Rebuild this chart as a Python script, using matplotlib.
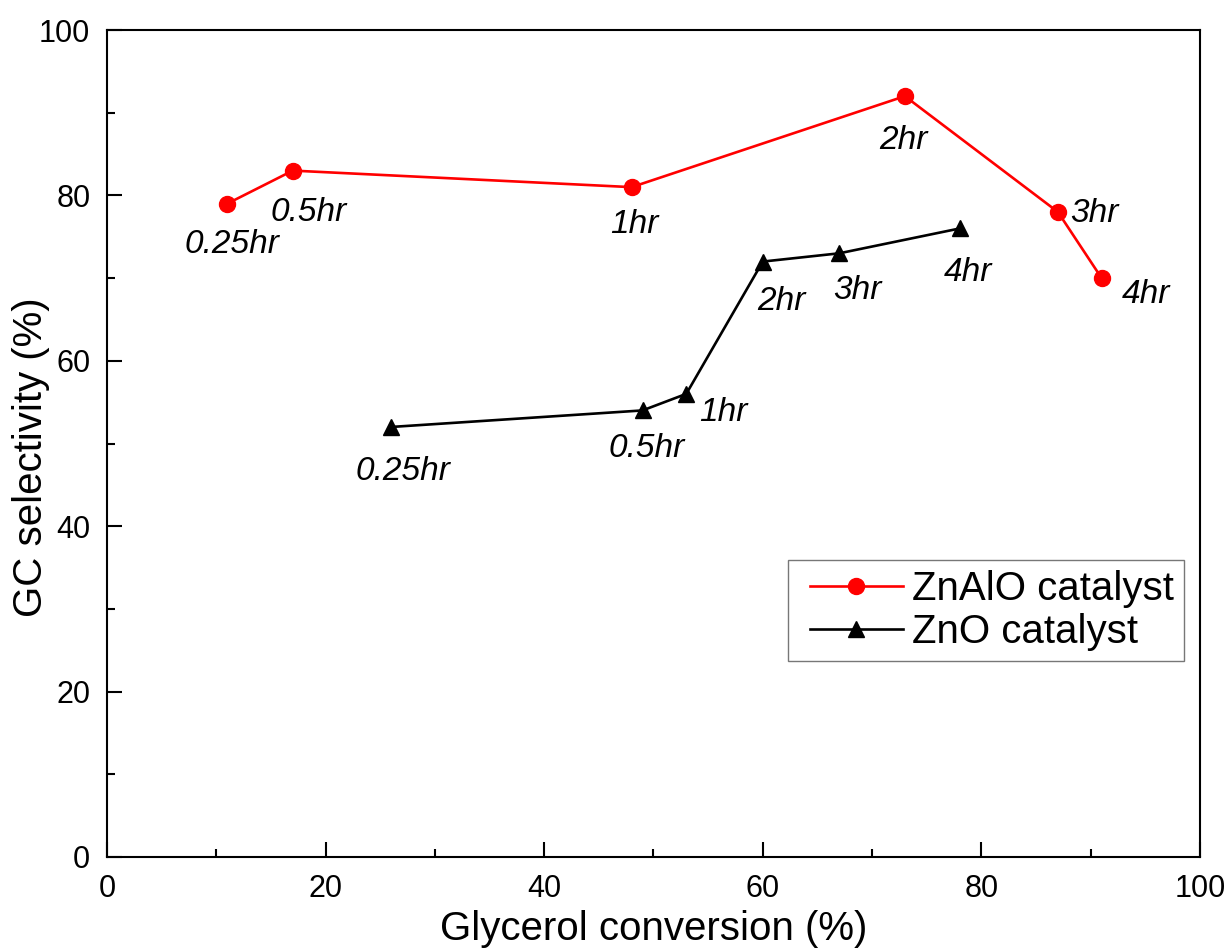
import matplotlib
matplotlib.use("Agg")
import matplotlib.pyplot as plt
from matplotlib.ticker import MultipleLocator
from matplotlib.legend_handler import HandlerLine2D

plt.rcParams['font.family'] = ['Liberation Sans', 'DejaVu Sans']

# Glycerol conversion (%) vs GC selectivity (%) at each reaction time
znalo_conv = [11, 17, 48, 73, 87, 91]
znalo_sel = [79, 83, 81, 92, 78, 70]
znalo_times = ['0.25hr', '0.5hr', '1hr', '2hr', '3hr', '4hr']

zno_conv = [26, 49, 53, 60, 67, 78]
zno_sel = [52, 54, 56, 72, 73, 76]
zno_times = ['0.25hr', '0.5hr', '1hr', '2hr', '3hr', '4hr']

# label offsets in pixels (dx, dy), text anchored at its baseline centre
znalo_offsets = [(5, -49), (16, -50), (3, -46), (-1, -53), (37, -10), (44, -25)]
zno_offsets = [(12, -53), (4, -47), (37, -27), (19, -48), (18, -46), (8, -53)]

fig = plt.figure(figsize=(12.31, 9.5), dpi=100)
ax = fig.add_axes([0.0869, 0.0979, 0.8879, 0.8705])

l1, = ax.plot(znalo_conv, znalo_sel, color='#ff0000', lw=1.9, marker='o',
              markersize=11.5, label='ZnAlO catalyst')
l2, = ax.plot(zno_conv, zno_sel, color='black', lw=1.9, marker='^',
              markersize=11.5, label='ZnO catalyst')

for x, y, t, (dx, dy) in zip(znalo_conv, znalo_sel, znalo_times, znalo_offsets):
    ax.annotate(t, (x, y), xytext=(dx, dy), textcoords='offset pixels',
                ha='center', va='baseline', fontsize=24, style='italic')
for x, y, t, (dx, dy) in zip(zno_conv, zno_sel, zno_times, zno_offsets):
    ax.annotate(t, (x, y), xytext=(dx, dy), textcoords='offset pixels',
                ha='center', va='baseline', fontsize=24, style='italic')

ax.set_xlim(0, 100)
ax.set_ylim(0, 100)
ax.xaxis.set_major_locator(MultipleLocator(20))
ax.xaxis.set_minor_locator(MultipleLocator(10))
ax.yaxis.set_major_locator(MultipleLocator(20))
ax.yaxis.set_minor_locator(MultipleLocator(10))

ax.tick_params(which='both', direction='in', top=False, right=False,
               width=1.5, labelsize=22)
ax.tick_params(which='major', length=11, pad=12)
ax.tick_params(which='minor', length=6)
for s in ax.spines.values():
    s.set_linewidth(1.5)

ax.set_xlabel('Glycerol conversion (%)', fontsize=29)
ax.set_ylabel('GC selectivity (%)', fontsize=29)
ax.xaxis.set_label_coords(0.5, -0.064)
ax.yaxis.set_label_coords(-0.052, 0.484)

# handles are inset from the frame's left edge
hmap = {l1: HandlerLine2D(xpad=0.3), l2: HandlerLine2D(xpad=0.3)}
leg = ax.legend(handles=[l1, l2], handler_map=hmap,
                loc='upper right', bbox_to_anchor=(0.985, 0.359),
                fontsize=29, frameon=True, fancybox=False, edgecolor='#555555',
                handlelength=2.6, handletextpad=0.22, borderpad=0.25,
                labelspacing=0.12, borderaxespad=0)
leg.get_frame().set_linewidth(1.0)

fig.savefig('out.png', dpi=100)
